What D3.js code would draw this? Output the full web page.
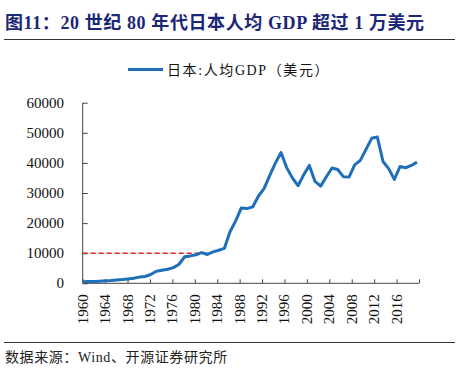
<!DOCTYPE html>
<html>
<head>
<meta charset="utf-8">
<script src="https://cdn.jsdelivr.net/npm/d3@7"></script>
<style>
  body { margin: 0; background: #fff; }
  svg { display: block; }
</style>
</head>
<body>
<div id="chart"></div>
<script>
// 日本人均GDP（美元），1960-2019
var years = d3.range(1960, 2020);
var gdpPerCapita = [476, 564, 633, 718, 836, 919, 1059, 1229, 1451, 1669,
    2056, 2272, 2918, 3998, 4353, 4659, 5197, 6335, 8821, 9103,
    9463, 10212, 9578, 10425, 10979, 11584, 17111, 20745, 25051, 24823,
    25371, 28925, 31465, 35766, 39934, 43440, 38437, 35022, 32424, 36027,
    39169, 33846, 32289, 35387, 38300, 37813, 35434, 35275, 39339, 40855,
    44508, 48168, 48603, 40454, 38109, 34524, 38794, 38387, 39159, 40247];
var refYears = [1960, 1982];
var refValue = 10000;
var yTicks = [0, 10000, 20000, 30000, 40000, 50000, 60000];
var xTickYears = d3.range(1960, 2021, 4);

var W = 474, H = 376;
var serif = "'Liberation Serif', 'Times New Roman', 'Noto Sans CJK SC', serif";

var svg = d3.select("#chart")
    .append("svg")
    .attr("width", W)
    .attr("height", H);

// title
svg.append("text")
    .attr("x", 5)
    .attr("y", 29)
    .attr("font-family", serif)
    .attr("font-weight", "bold")
    .attr("font-size", 18)
    .attr("letter-spacing", 0.6)
    .attr("fill", "#1c2777")
    .text("图11：20 世纪 80 年代日本人均 GDP 超过 1 万美元");

svg.append("line")
    .attr("x1", 4).attr("x2", 455)
    .attr("y1", 39.5).attr("y2", 39.5)
    .attr("stroke", "#333")
    .attr("stroke-width", 1);

// legend
svg.append("line")
    .attr("x1", 128).attr("x2", 163)
    .attr("y1", 69.5).attr("y2", 69.5)
    .attr("stroke", "#1f6fb8")
    .attr("stroke-width", 3);
svg.append("text")
    .attr("x", 167)
    .attr("y", 75)
    .attr("font-family", serif)
    .attr("font-size", 14)
    .attr("letter-spacing", 1.6)
    .attr("fill", "#111")
    .text("日本:人均GDP（美元）");

// scales
var x0 = 82.7, yBottom = 283.3, yTop = 102.7;
var xAxisScale = d3.scaleLinear().domain([1960, 2020]).range([x0, 419]);
var xData = d3.scaleLinear().domain([1960, 2019]).range([x0, 417]);
var y = d3.scaleLinear().domain([0, 60000]).range([yBottom, yTop]);

// y axis
var yAxisG = svg.append("g")
    .attr("transform", "translate(" + x0 + ",0)")
    .call(d3.axisRight(y).tickValues(yTicks).tickSize(5).tickFormat(""));
yAxisG.select(".domain").attr("stroke", "#444").attr("d", "M0," + yTop + "V" + yBottom);
yAxisG.selectAll(".tick line").attr("stroke", "#444");

svg.append("g").selectAll("text")
    .data(yTicks)
    .enter()
    .append("text")
    .attr("x", 64)
    .attr("y", function (d) { return y(d) + 5; })
    .attr("text-anchor", "end")
    .attr("font-family", serif)
    .attr("font-size", 15)
    .attr("fill", "#111")
    .text(function (d) { return d; });

// x axis
var xAxisG = svg.append("g")
    .attr("transform", "translate(0," + yBottom + ")")
    .call(d3.axisTop(xAxisScale).tickValues(xTickYears).tickSize(4).tickFormat(""));
xAxisG.select(".domain").attr("stroke", "#444").attr("d", "M" + x0 + ",0H419");
xAxisG.selectAll(".tick line").attr("stroke", "#444");

svg.append("g").selectAll("text")
    .data(xTickYears.filter(function (d) { return d < 2020; }))
    .enter()
    .append("text")
    .attr("transform", function (d) {
        return "translate(" + (xAxisScale(d) + 5) + "," + (yBottom + 11) + ") rotate(-90)";
    })
    .attr("text-anchor", "end")
    .attr("font-family", serif)
    .attr("font-size", 15)
    .attr("fill", "#111")
    .text(function (d) { return d; });

// 1万美元参考线
svg.append("line")
    .attr("x1", xData(refYears[0]))
    .attr("x2", xData(refYears[1]))
    .attr("y1", y(refValue))
    .attr("y2", y(refValue))
    .attr("stroke", "#e8201e")
    .attr("stroke-width", 1.5)
    .attr("stroke-dasharray", "5,3");

// line
var line = d3.line()
    .x(function (d, i) { return xData(years[i]); })
    .y(function (d) { return y(d); });

svg.append("path")
    .datum(gdpPerCapita)
    .attr("d", line)
    .attr("fill", "none")
    .attr("stroke", "#1f6fb8")
    .attr("stroke-width", 3)
    .attr("stroke-linejoin", "round");

// source
svg.append("line")
    .attr("x1", 4).attr("x2", 455)
    .attr("y1", 342.5).attr("y2", 342.5)
    .attr("stroke", "#333")
    .attr("stroke-width", 1);
svg.append("text")
    .attr("x", 5)
    .attr("y", 362)
    .attr("font-family", serif)
    .attr("font-size", 14)
    .attr("letter-spacing", 0.6)
    .attr("fill", "#222")
    .text("数据来源：Wind、开源证券研究所");
</script>
</body>
</html>
